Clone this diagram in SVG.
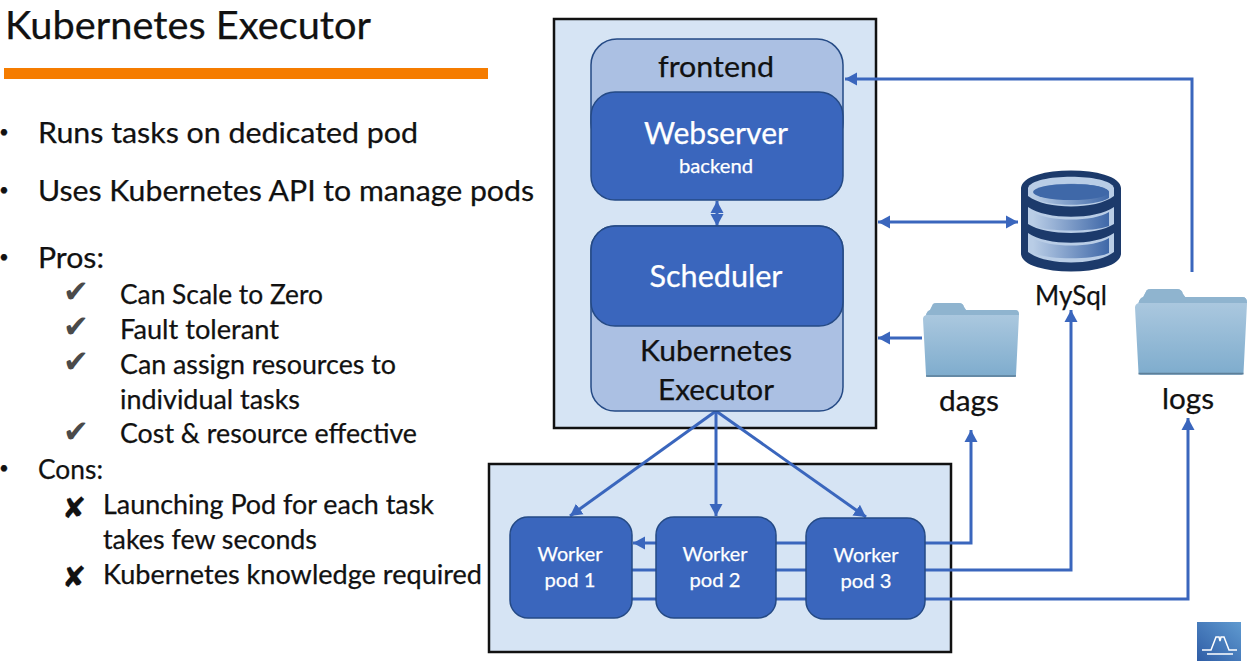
<svg xmlns="http://www.w3.org/2000/svg" width="1249" height="661" viewBox="0 0 1249 661">
<style>
text{font-family:"Lato","Carlito","Liberation Sans",sans-serif;fill:#111;stroke:#111;stroke-width:.25}
.b{font-size:29px}
.s{font-size:27px}
.d{font-size:17px}
.g{font-family:"DejaVu Sans",sans-serif;font-size:31px;fill:#4a4a4a;stroke:none}
.x{font-family:"DejaVu Sans",sans-serif;font-size:29px;fill:#111}
.w{fill:#fff;stroke:#fff;text-anchor:middle}
.box{fill:#d6e4f4;stroke:#111;stroke-width:2.5}
.lt{fill:#abc0e3;stroke:#254a85;stroke-width:1.5}
.dk{fill:#3a66bd;stroke:#254a85;stroke-width:1.5}
.c{fill:none;stroke:#3a66bd;stroke-width:3}
.m{text-anchor:middle}
</style>
<defs>
<marker id="a" markerUnits="userSpaceOnUse" markerWidth="13" markerHeight="14" refX="12" refY="7" orient="auto-start-reverse"><path d="M0 0.5L12 7L0 13.5Z" fill="#3a66bd"/></marker>
<linearGradient id="fo" x1="0" y1="0" x2="0" y2="1"><stop offset="0" stop-color="#b3cde2"/><stop offset="1" stop-color="#7eaccd"/></linearGradient>
<linearGradient id="db" x1="0" y1="0" x2="1" y2="0"><stop offset="0" stop-color="#b9cde6"/><stop offset="1" stop-color="#3f68a8"/></linearGradient>
<linearGradient id="lg" x1="0" y1="1" x2="1" y2="0"><stop offset="0" stop-color="#2f5da6"/><stop offset="1" stop-color="#5f9ad0"/></linearGradient>
<g id="folder">
<path d="M3 12Q4 8 7 7L10 1Q11 0 14 0H36Q40 0 41 4L43 7H92Q96 7 96 12L93 72Q93 74 90 74H6Q3 74 3 72L0 16Q0 13 3 12Z" fill="url(#fo)"/>
<path d="M3 12Q4 8 7 7L10 1Q11 0 14 0H36Q40 0 41 4L43 7H92Q96 7 96 12Z" fill="#8fb4cf"/>
<path d="M3 73H93" stroke="#5d7f99" stroke-width="1.5"/>
</g>
</defs>

<g id="title">
<text x="5" y="39" font-size="38" textLength="366" lengthAdjust="spacingAndGlyphs">Kubernetes Executor</text>
<rect x="4" y="68" width="484" height="11" fill="#f57c00"/>
</g>

<g id="bullets">
<text x="-1" y="138" class="d">•</text><text x="38" y="143" class="b" textLength="380" lengthAdjust="spacingAndGlyphs">Runs tasks on dedicated pod</text>
<text x="-1" y="196" class="d">•</text><text x="38" y="201" class="b" textLength="496" lengthAdjust="spacingAndGlyphs">Uses Kubernetes API to manage pods</text>
<text x="-1" y="263" class="d">•</text><text x="38" y="268" class="b" textLength="66" lengthAdjust="spacingAndGlyphs">Pros:</text>
<text x="63" y="302" class="g">✔</text><text x="120" y="304" class="s" textLength="203" lengthAdjust="spacingAndGlyphs">Can Scale to Zero</text>
<text x="63" y="337" class="g">✔</text><text x="120" y="339" class="s" textLength="159" lengthAdjust="spacingAndGlyphs">Fault tolerant</text>
<text x="63" y="372" class="g">✔</text><text x="120" y="374" class="s" textLength="276" lengthAdjust="spacingAndGlyphs">Can assign resources to</text>
<text x="120" y="409" class="s" textLength="180" lengthAdjust="spacingAndGlyphs">individual tasks</text>
<text x="63" y="442" class="g">✔</text><text x="120" y="443" class="s" textLength="297" lengthAdjust="spacingAndGlyphs">Cost &amp; resource effective</text>
<text x="-1" y="474" class="d">•</text><text x="38" y="479" class="s" textLength="65" lengthAdjust="spacingAndGlyphs">Cons:</text>
<text x="62" y="518" class="x">✘</text><text x="103" y="514" class="s" textLength="331" lengthAdjust="spacingAndGlyphs">Launching Pod for each task</text>
<text x="103" y="549" class="s" textLength="214" lengthAdjust="spacingAndGlyphs">takes few seconds</text>
<text x="62" y="587" class="x">✘</text><text x="103" y="584" class="s" textLength="379" lengthAdjust="spacingAndGlyphs">Kubernetes knowledge required</text>
</g>

<g id="airflow-box"><rect class="box" x="554" y="19" width="322" height="409"/></g>
<g id="worker-box"><rect class="box" x="489" y="464" width="462" height="188"/></g>

<g id="connectors">
<path class="c" d="M845 79H1192V272" marker-start="url(#a)"/>
<path class="c" d="M878 222H1018" marker-start="url(#a)" marker-end="url(#a)"/>
<path class="c" d="M922 338H878" marker-end="url(#a)"/>
<path class="c" d="M717 201V226" marker-start="url(#a)" marker-end="url(#a)"/>
<path class="c" d="M716 411L570 516" marker-end="url(#a)"/>
<path class="c" d="M716 411V516" marker-end="url(#a)"/>
<path class="c" d="M716 411L866 517" marker-end="url(#a)"/>
<path class="c" d="M971 430V543H806" marker-start="url(#a)"/>
<path class="c" d="M806 543H633" marker-end="url(#a)"/>
<path class="c" d="M1071 310V570H632" marker-start="url(#a)"/>
<path class="c" d="M1188 418V599H632" marker-start="url(#a)"/>
</g>

<g id="frontend"><rect class="lt" x="591" y="39" width="252" height="110" rx="26"/>
<text x="716" y="77" class="m" font-size="29" textLength="116" lengthAdjust="spacingAndGlyphs">frontend</text></g>
<g id="webserver"><rect class="dk" x="591" y="92" width="252" height="108" rx="24"/>
<text x="716" y="144" class="w" font-size="31" textLength="144" lengthAdjust="spacingAndGlyphs">Webserver</text>
<text x="716" y="173" class="w" font-size="20" textLength="74" lengthAdjust="spacingAndGlyphs">backend</text></g>
<g id="executor"><rect class="lt" x="591" y="226" width="252" height="185" rx="24"/>
<text x="716" y="361" class="m" font-size="29" textLength="152" lengthAdjust="spacingAndGlyphs">Kubernetes</text>
<text x="716" y="400" class="m" font-size="29" textLength="116" lengthAdjust="spacingAndGlyphs">Executor</text></g>
<g id="scheduler"><rect class="dk" x="591" y="226" width="252" height="100" rx="24"/>
<text x="716" y="287" class="w" font-size="30" textLength="133" lengthAdjust="spacingAndGlyphs">Scheduler</text></g>

<g id="pod1"><rect class="dk" x="510" y="517" width="122" height="101" rx="18"/>
<text x="570" y="561" class="w" font-size="20" textLength="65" lengthAdjust="spacingAndGlyphs">Worker</text>
<text x="570" y="587" class="w" font-size="20" textLength="51" lengthAdjust="spacingAndGlyphs">pod 1</text></g>
<g id="pod2"><rect class="dk" x="656" y="517" width="120" height="101" rx="18"/>
<text x="715" y="561" class="w" font-size="20" textLength="65" lengthAdjust="spacingAndGlyphs">Worker</text>
<text x="715" y="587" class="w" font-size="20" textLength="51" lengthAdjust="spacingAndGlyphs">pod 2</text></g>
<g id="pod3"><rect class="dk" x="806" y="518" width="119" height="101" rx="18"/>
<text x="866" y="562" class="w" font-size="20" textLength="65" lengthAdjust="spacingAndGlyphs">Worker</text>
<text x="866" y="588" class="w" font-size="20" textLength="51" lengthAdjust="spacingAndGlyphs">pod 3</text></g>

<g id="mysql">
<path d="M1022 188C1024 166 1118 166 1120 188V254C1118 276 1024 276 1022 254Z" fill="#1c3a6b" stroke="#1c3a6b" stroke-width="2"/>
<path d="M1028 188C1032 173 1110 173 1114 188V196C1096 210 1046 210 1028 196Z" fill="#b9cde6"/>
<path d="M1033 192C1037 181 1105 181 1109 192V198C1096 207 1046 207 1033 198Z" fill="url(#db)"/>
<ellipse cx="1071" cy="192" rx="38" ry="8" fill="#3f68a8"/>
<path d="M1028 207C1046 220 1096 220 1114 207V224C1096 236 1046 236 1028 224Z" fill="#b9cde6"/>
<path d="M1033 212C1048 222 1094 222 1109 212V226C1094 232 1048 232 1033 226Z" fill="url(#db)"/>
<path d="M1028 233C1046 246 1096 246 1114 233V252C1096 266 1046 266 1028 252Z" fill="#b9cde6"/>
<path d="M1033 238C1048 248 1094 248 1109 238V253C1094 260 1048 260 1033 253Z" fill="url(#db)"/>
<text x="1071" y="305" class="m" font-size="27" textLength="72" lengthAdjust="spacingAndGlyphs">MySql</text>
</g>
<g id="dags">
<use href="#folder" x="923" y="303"/>
<text x="969" y="411" class="m" font-size="29" textLength="60" lengthAdjust="spacingAndGlyphs">dags</text>
</g>
<g id="logs">
<use href="#folder" transform="translate(1135 289) scale(1.167 1.16)"/>
<text x="1188" y="409" class="m" font-size="29" textLength="52" lengthAdjust="spacingAndGlyphs">logs</text>
</g>
<g id="logo">
<rect x="1197" y="622" width="44" height="39" fill="url(#lg)"/>
<path d="M1202 650H1211L1216 637H1219L1220 641L1221 637H1224L1229 650H1237M1207 654H1233" fill="none" stroke="#fff" stroke-width="1.5"/>
</g>
</svg>
